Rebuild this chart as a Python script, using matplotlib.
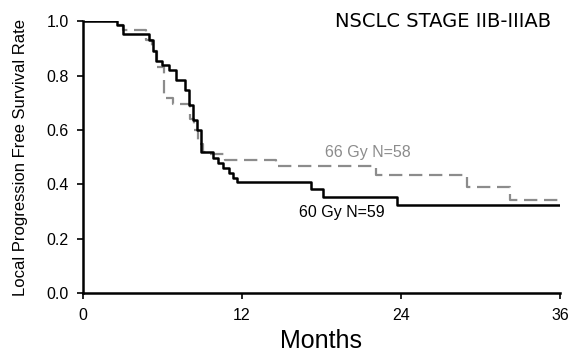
import numpy as np
from matplotlib import pyplot as plt

plt.rcParams['font.family'] = ['Liberation Sans', 'DejaVu Sans']

# Kaplan-Meier step data (months, survival after step)
t60 = [0, 2.6, 3.0, 5.0, 5.3, 5.5, 6.0, 6.5, 7.0, 7.7, 8.0, 8.3, 8.6, 8.9,
       9.85, 10.2, 10.6, 11.0, 11.3, 11.6, 17.2, 18.1, 23.7, 36]
s60 = [1.0, 0.985, 0.953, 0.93, 0.89, 0.852, 0.837, 0.82, 0.784, 0.748, 0.69,
       0.637, 0.60, 0.52, 0.496, 0.478, 0.46, 0.44, 0.423, 0.407, 0.382, 0.355,
       0.324, 0.324]

t66 = [0, 2.6, 3.0, 4.8, 5.2, 5.6, 6.1, 6.8, 8.1, 8.4, 8.7, 9.1, 9.5, 10.75,
       14.6, 22.1, 29.0, 32.2, 36]
s66 = [1.0, 0.985, 0.968, 0.93, 0.89, 0.833, 0.717, 0.697, 0.64, 0.60, 0.55,
       0.52, 0.51, 0.488, 0.468, 0.434, 0.39, 0.343, 0.343]

xticks = [0, 12, 24, 36]
yticks = [0.0, 0.2, 0.4, 0.6, 0.8, 1.0]

fig = plt.figure(figsize=(5.71, 3.52), dpi=100)
ax = fig.add_axes([0.145, 0.167, 0.836, 0.773])

ax.step(t66, s66, where='post', color='#8c8c8c', lw=1.6, dashes=(6, 3))
ax.step(t60, s60, where='post', color='black', lw=1.8)

ax.text(18.3, 0.516, '66 Gy N=58', color='#8c8c8c', fontsize=11.5, va='center')
ax.text(16.3, 0.295, '60 Gy N=59', color='black', fontsize=11.5, va='center')

ax.set_xlim(0, 36)
ax.set_ylim(0, 1.0)
ax.set_xticks(xticks)
ax.set_yticks(yticks)
ax.set_yticklabels(['%.1f' % v for v in yticks])
ax.tick_params(labelsize=11.5, direction='out', length=4, width=1.2)
ax.tick_params(axis='x', pad=7)
ax.tick_params(axis='y', pad=6)
for s in ['top', 'right']:
    ax.spines[s].set_visible(False)
for s in ['left', 'bottom']:
    ax.spines[s].set_linewidth(1.8)

ax.set_xlabel('Months', fontsize=18, labelpad=4)
ax.set_ylabel('Local Progression Free Survival Rate', fontsize=12, labelpad=13)
ax.text(0.755, 1.0, 'NSCLC STAGE IIB-IIIAB', transform=ax.transAxes,
        fontsize=14, ha='center', va='center', family=['DejaVu Sans'])

plt.savefig('out.png', dpi=100)
